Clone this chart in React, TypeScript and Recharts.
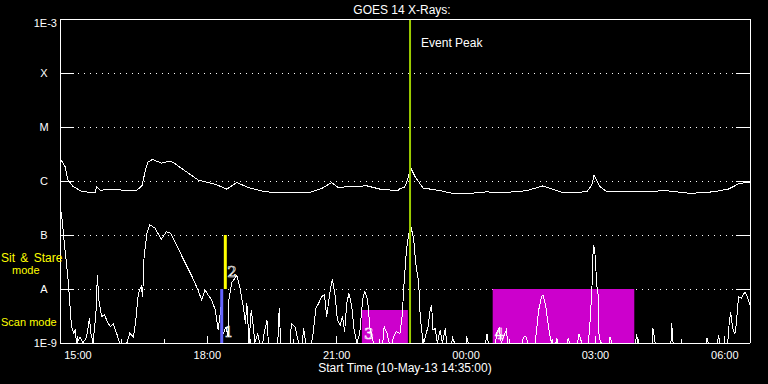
import {
  CartesianGrid,
  Line,
  LineChart,
  ReferenceArea,
  ReferenceLine,
  XAxis,
  YAxis,
} from "recharts";

// minutes after the plot start (10-May-13 14:35 UT), log10 flux in W/m^2
const longChannel: [number, number][] = [
  [0, -5.58], [7, -5.73], [11, -5.98], [18, -6.1], [31, -6.2], [49, -6.21], [51, -6.11],
  [56, -6.17], [77, -6.15], [90, -6.18], [107, -6.17], [114, -6.09], [118, -5.85],
  [122, -5.65], [129, -5.6], [141, -5.67], [153, -5.63], [160, -5.68], [178, -5.85],
  [192, -5.98], [216, -6.06], [232, -6.15], [246, -6.03], [262, -6.12], [285, -6.2],
  [317, -6.22], [345, -6.22], [364, -6.14], [378, -6.03], [387, -6.12], [406, -6.1],
  [427, -6.09], [445, -6.15], [470, -6.18], [473, -6.14], [479, -6.12], [482, -6.04],
  [488, -5.76], [494, -5.92], [505, -6.13], [515, -6.15], [529, -6.18], [547, -6.23],
  [570, -6.23], [594, -6.2], [612, -6.22], [649, -6.18], [672, -6.09], [700, -6.22],
  [733, -6.2], [740, -6.07], [743, -5.89], [751, -6.1], [761, -6.2], [798, -6.2],
  [844, -6.18], [877, -6.23], [909, -6.2], [930, -6.15], [946, -6.04], [960, -6.03],
];

const shortChannel: [number, number][] = [
  [0, -6.52], [1, -6.54], [3, -6.73], [7, -7.28], [11, -7.78], [14, -8.33], [16, -8.7],
  [19, -8.82], [21, -8.76], [23, -9], [28, -8.89], [32, -9], [37, -8.89], [41, -8.54],
  [43, -8.82], [46, -9], [50, -8.45], [52, -7.75], [54, -8.2], [58, -8.51], [62, -8.48],
  [65, -8.58], [70, -8.7], [74, -8.64], [79, -8.83], [83, -9], [93, -9], [97, -8.82],
  [102, -8.89], [105, -8.64], [109, -8.08], [113, -7.95], [115, -8.14], [117, -7.4],
  [121, -6.96], [125, -6.81], [132, -6.87], [141, -7.08], [148, -6.94], [154, -6.97],
  [162, -7.18], [172, -7.46], [183, -7.75], [192, -8.02], [197, -8.2], [202, -8.02],
  [206, -8.11], [211, -8.2], [216, -8.39], [220, -8.76], [224, -8.33], [227, -8.83],
  [231, -8.7], [234, -8.89], [235, -8.2], [239, -7.88], [246, -7.75], [250, -7.95],
  [255, -8.33], [258, -8.64], [260, -8.26], [263, -9], [266, -8.39], [269, -8.7],
  [271, -9], [275, -8.83], [278, -9], [282, -9], [284, -8.82], [288, -8.58], [290, -9],
  [303, -9], [305, -8.36], [307, -9], [320, -9], [322, -8.64], [327, -8.7], [329, -8.82],
  [332, -9], [337, -9], [339, -8.73], [342, -9], [350, -9], [352, -8.83], [356, -8.36],
  [360, -8.26], [364, -8.14], [368, -8.11], [371, -8.51], [376, -8.02], [379, -7.81],
  [383, -8.14], [386, -8.58], [390, -8.67], [393, -8.51], [396, -8.79], [399, -8.26],
  [402, -8.08], [406, -8.33], [409, -8.73], [413, -9], [417, -8.83], [421, -8.2],
  [424, -8.05], [428, -8.2], [431, -8.7], [436, -9], [449, -9], [451, -8.7], [455, -8.82],
  [458, -9], [462, -9], [464, -8.89], [468, -8.79], [473, -8.82], [476, -8.51],
  [479, -7.83], [482, -7.28], [485, -7.0], [488, -6.84], [492, -7.06], [495, -7.53],
  [499, -7.88], [501, -8.45], [503, -8.76], [506, -9], [512, -8.7], [515, -8.39],
  [517, -8.3], [519, -8.76], [522, -8.73], [525, -9], [529, -8.76], [532, -9],
  [536, -8.73], [538, -9], [545, -9], [546, -8.9], [549, -9], [565, -9], [566, -8.9],
  [568, -9], [592, -9], [594, -8.83], [596, -9], [606, -9], [608, -8.79], [611, -8.73],
  [614, -9], [619, -8.82], [621, -8.76], [623, -9], [643, -9], [645, -8.89], [648, -8.87],
  [651, -9], [661, -9], [663, -8.76], [666, -8.39], [670, -8.14], [672, -8.11],
  [676, -8.33], [679, -8.64], [682, -8.89], [684, -9], [690, -9], [691, -8.91], [693, -9],
  [706, -9], [707, -8.91], [709, -9], [720, -9], [722, -8.83], [726, -9], [735, -9],
  [737, -8.7], [740, -8.02], [742, -7.18], [744, -7.28], [747, -7.95], [749, -8.14],
  [750, -8.89], [753, -9], [764, -9], [765, -8.89], [768, -9], [801, -9], [802, -8.83],
  [804, -9], [824, -9], [825, -8.73], [828, -9], [850, -9], [851, -8.63], [853, -9],
  [899, -9], [900, -8.9], [902, -9], [915, -9], [916, -8.85], [918, -9], [929, -9],
  [931, -8.64], [933, -8.42], [936, -8.73], [939, -8.83], [941, -8.64], [944, -8.14],
  [948, -8.17], [953, -8.05], [956, -8.14], [960, -8.3],
];

const hourTicks = [25, 85, 145, 205, 265, 325, 385, 445, 505, 565, 625, 685, 745, 805, 865, 925];
const hourLabels = ["15:00", "", "", "18:00", "", "", "21:00", "", "", "00:00", "", "", "03:00", "", "", "06:00"];

const levelTicks = [-9, -8, -7, -6, -5, -4, -3];
const levelLabels = ["1E-9", "A", "B", "C", "M", "X", "1E-3"];

// IRIS observing windows (scan mode rasters)
const scanWindows = [
  { name: "3", start: 420, end: 484, top: -8.39 },
  { name: "4", start: 602, end: 799, top: -8 },
];
// mode markers: 1 = scan, 2 = sit & stare
const modeMarks = [
  { name: "1", time: 225, from: -9, to: -8 },
  { name: "2", time: 230, from: -8, to: -7 },
];
const modeColors = ["#6464ff", "#ffff00"];
const eventPeak = 487;

const FONT = '"Liberation Sans", Arial, sans-serif';
const longData = longChannel.map(([t, f]) => ({ t, f }));
const shortData = shortChannel.map(([t, f]) => ({ t, f }));

const leftTick = (p: any) => {
  const i = levelTicks.indexOf(p.payload.value);
  const label = levelLabels[i];
  const numeric = label.startsWith("1E");
  const cy = i === levelTicks.length - 1 ? p.y + 4 : p.y;
  return (
    <g>
      <line x1={p.x} y1={p.y} x2={p.x + 14} y2={p.y} stroke="#fff" shapeRendering="crispEdges" />
      <text
        x={numeric ? p.x - 3 : p.x - 16}
        y={cy + 4}
        textAnchor={numeric ? "end" : "middle"}
        fill="#fff"
        fontSize={11}
        fontFamily={FONT}
      >
        {label}
      </text>
    </g>
  );
};

const rightTick = (p: any) => (
  <line x1={p.x} y1={p.y} x2={p.x - 14} y2={p.y} stroke="#fff" shapeRendering="crispEdges" />
);

const bottomTick = (p: any) => {
  const label = hourLabels[hourTicks.indexOf(p.payload.value)];
  return (
    <g>
      <line x1={p.x} y1={p.y} x2={p.x} y2={p.y - (label ? 7 : 4)} stroke="#fff" shapeRendering="crispEdges" />
      {label && (
        <text x={p.x} y={p.y + 16} textAnchor="middle" fill="#fff" fontSize={11} fontFamily={FONT}>
          {label}
        </text>
      )}
    </g>
  );
};

const topTick = (p: any) => {
  const label = hourLabels[hourTicks.indexOf(p.payload.value)];
  return (
    <line x1={p.x} y1={p.y} x2={p.x} y2={p.y + (label ? 7 : 4)} stroke="#fff" shapeRendering="crispEdges" />
  );
};

const outlineDigit = (x: number, y: number, text: string) => (
  <text x={x} y={y} fill="none" stroke="#fff" strokeWidth={0.7} fontSize={15} fontFamily='"DejaVu Serif", serif'>
    {text}
  </text>
);

const axisStroke = { stroke: "#fff", shapeRendering: "crispEdges" };

export default function App() {
  return (
    <div
      style={{
        position: "absolute",
        left: 0,
        top: 0,
        width: 768,
        height: 384,
        background: "#000",
        fontFamily: FONT,
        overflow: "hidden",
      }}
    >
      <LineChart width={768} height={384} margin={{ top: 0, right: 0, bottom: 11, left: 0 }}>
        <CartesianGrid vertical={false} stroke="#fff" strokeDasharray="1 5" shapeRendering="crispEdges" />
        <XAxis
          type="number"
          dataKey="t"
          domain={[0, 960]}
          allowDataOverflow
          ticks={hourTicks}
          interval={0}
          height={30}
          tickSize={0}
          tickMargin={0}
          tickLine={false}
          axisLine={axisStroke}
          tick={bottomTick}
        />
        <XAxis
          xAxisId="top"
          orientation="top"
          type="number"
          domain={[0, 960]}
          allowDataOverflow
          ticks={hourTicks}
          interval={0}
          height={19}
          tickSize={0}
          tickMargin={0}
          tickLine={false}
          axisLine={axisStroke}
          tick={topTick}
        />
        <YAxis
          type="number"
          domain={[-9, -3]}
          allowDataOverflow
          ticks={levelTicks}
          interval={0}
          width={60}
          tickSize={0}
          tickMargin={0}
          tickLine={false}
          axisLine={axisStroke}
          tick={leftTick}
        />
        <YAxis
          yAxisId="right"
          orientation="right"
          type="number"
          domain={[-9, -3]}
          allowDataOverflow
          ticks={levelTicks}
          interval={0}
          width={18}
          tickSize={0}
          tickMargin={0}
          tickLine={false}
          axisLine={axisStroke}
          tick={rightTick}
        />
        {scanWindows.map((w) => (
          <ReferenceArea
            key={w.name}
            x1={w.start}
            x2={w.end}
            y1={-9}
            y2={w.top}
            fill="#cc00cc"
            fillOpacity={1}
            stroke="none"
            label={(lp: any) => outlineDigit(lp.viewBox.x + 2, lp.viewBox.y + lp.viewBox.height - 4, w.name)}
          />
        ))}
        <Line
          data={longData}
          dataKey="f"
          type="linear"
          stroke="#fff"
          strokeWidth={1}
          dot={false}
          shapeRendering="crispEdges"
          isAnimationActive={false}
        />
        <Line
          data={shortData}
          dataKey="f"
          type="linear"
          stroke="#fff"
          strokeWidth={1}
          dot={false}
          shapeRendering="crispEdges"
          isAnimationActive={false}
        />
        {modeMarks.map((m, i) => (
          <ReferenceLine
            key={m.name}
            segment={[
              { x: m.time, y: m.from },
              { x: m.time, y: m.to },
            ]}
            stroke={modeColors[i]}
            strokeWidth={3}
            label={(lp: any) =>
              outlineDigit(lp.viewBox.x + 2, lp.viewBox.y + lp.viewBox.height - (i === 0 ? 6 : 12), m.name)
            }
          />
        ))}
        <ReferenceLine
          x={eventPeak}
          stroke="#9ccc00"
          strokeWidth={2}
          label={(lp: any) => (
            <text x={lp.viewBox.x + 11} y={lp.viewBox.y + 28} fill="#fff" fontSize={12} fontFamily={FONT}>
              Event Peak
            </text>
          )}
        />
      </LineChart>
      <div
        style={{
          position: "absolute",
          left: 302,
          top: 4,
          width: 200,
          textAlign: "center",
          color: "#fff",
          fontSize: 12,
          lineHeight: "12px",
        }}
      >
        GOES 14 X-Rays:
      </div>
      <div
        style={{
          position: "absolute",
          left: 255,
          top: 362,
          width: 300,
          textAlign: "center",
          color: "#fff",
          fontSize: 12,
          lineHeight: "12px",
        }}
      >
        Start Time (10-May-13 14:35:00)
      </div>
      <div style={{ position: "absolute", left: 1, top: 252, color: "#ff0", fontSize: 12, lineHeight: "12px", wordSpacing: 2, whiteSpace: "nowrap" }}>
        Sit &amp; Stare
      </div>
      <div style={{ position: "absolute", left: 12, top: 264, color: "#ff0", fontSize: 11, lineHeight: "12px" }}>
        mode
      </div>
      <div style={{ position: "absolute", left: 1, top: 316, color: "#ff0", fontSize: 11, lineHeight: "12px", whiteSpace: "nowrap" }}>
        Scan mode
      </div>
    </div>
  );
}
